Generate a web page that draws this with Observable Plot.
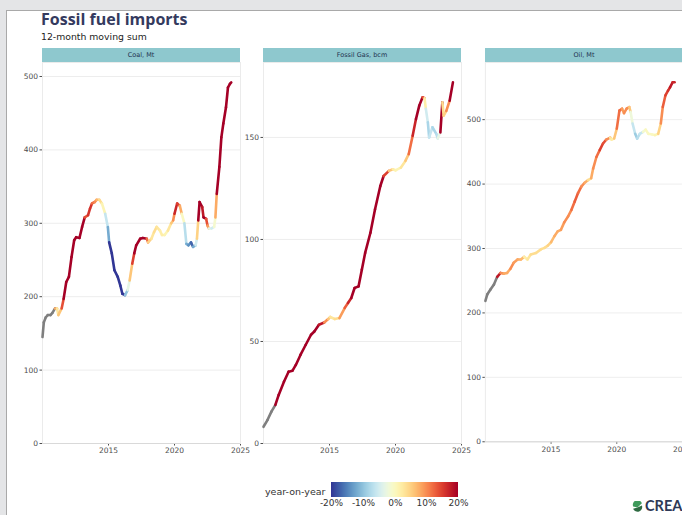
<!DOCTYPE html>
<html><head><meta charset="utf-8">
<script src="https://cdn.jsdelivr.net/npm/d3@7"></script>
<script src="https://cdn.jsdelivr.net/npm/@observablehq/plot@0.6"></script>
<style>
html,body{margin:0;padding:0;overflow:hidden;width:682px;height:515px;background:#e4e5e7;}
#card{position:absolute;left:6px;top:10px;width:900px;height:700px;background:#fff;border-top:1px solid #a9a9a9;border-left:1px solid #a9a9a9;}
.abs{position:absolute;white-space:nowrap;}
#title{left:41px;top:11px;font:bold 16px "Open Sans","DejaVu Sans",sans-serif;color:#343a5e;line-height:1;}
#subtitle{left:41px;top:32px;font:9.3px "DejaVu Sans",sans-serif;color:#222;line-height:1;}
.strip{position:absolute;height:14px;background:#8ec8ce;font:6.5px "DejaVu Sans",sans-serif;color:#1f3350;text-align:center;line-height:14px;}
.panel{position:absolute;top:62px;}
#yoylab{left:265px;top:487px;font:9.5px "DejaVu Sans",sans-serif;color:#333;line-height:1;}
#legend{position:absolute;left:317px;top:482px;}
#legend line{stroke:none;}
#logo{left:632px;top:499px;font:bold 14.5px Lato,"DejaVu Sans",sans-serif;color:#2e3956;line-height:1;display:flex;align-items:center;gap:2px;}
</style>
</head><body>
<div id="card"></div>
<div id="title" class="abs">Fossil fuel imports</div>
<div id="subtitle" class="abs">12-month moving sum</div>
<div id="root"></div>
<div id="yoylab" class="abs">year-on-year</div>
<div id="legend"></div>
<div id="logo" class="abs"><svg width="11" height="11" viewBox="0 0 10 10"><path d="M1 5 A4 4 0 0 1 9 2 L5 6 Z" fill="#3f9a5b"/><path d="M9 4 A4 4 0 0 1 1 7 L5 6 Z" fill="#2e6a42"/></svg><span>CREA</span></div>
<script>
// ---- data ----
const panelTitles = ["Coal, Mt", "Fossil Gas, bcm", "Oil, Mt"];
const xTicks = [2015, 2020, 2025];
const legendTicks = [-0.2, -0.1, 0, 0.1, 0.2];

const coalYears = [2010.0,2010.1,2010.25,2010.4,2010.6,2010.75,2010.95,2011.1,2011.2,2011.45,2011.6,2011.8,2012.0,2012.2,2012.4,2012.55,2012.8,2013.0,2013.2,2013.45,2013.6,2013.75,2013.95,2014.1,2014.3,2014.5,2014.75,2014.95,2015.05,2015.25,2015.45,2015.7,2015.9,2016.05,2016.25,2016.45,2016.6,2016.8,2016.95,2017.1,2017.4,2017.6,2017.9,2018.0,2018.25,2018.45,2018.65,2018.9,2019.05,2019.25,2019.5,2019.75,2019.9,2020.0,2020.2,2020.4,2020.55,2020.75,2020.9,2021.05,2021.25,2021.4,2021.6,2021.7,2021.8,2021.9,2022.1,2022.2,2022.4,2022.5,2022.6,2022.8,2023.0,2023.1,2023.2,2023.4,2023.55,2023.7,2023.9,2024.05,2024.2,2024.3];
const coalValues = [145,165,172,175,175,178,184,184,175,184,197,220,227,254,277,281,280,295,308,311,320,327,329,332,332,327,313,295,274,259,236,227,215,204,202,209,222,245,259,270,279,280,279,274,279,288,295,290,284,284,290,300,304,313,327,324,313,300,272,270,274,268,270,279,304,329,322,308,306,297,293,293,295,308,340,377,417,436,458,485,490,492];
const coalYoy = [null,null,null,null,null,null,null,0.08,0.03,0.06,0.14,0.22,0.25,0.3,0.35,0.3,0.22,0.22,0.2,0.14,0.16,0.16,0.12,0.1,0.07,0.04,0.01,-0.06,-0.12,-0.2,-0.25,-0.27,-0.3,-0.28,-0.2,-0.1,-0.03,0.06,0.15,0.25,0.3,0.22,0.2,0.12,0.05,0.03,0.04,0.03,0.02,0.02,0.01,0.03,0.06,0.1,0.17,0.15,0.08,0.0,-0.07,-0.12,-0.14,-0.17,-0.12,-0.05,0.05,0.2,0.22,0.18,0.2,0.14,0.09,-0.03,-0.05,-0.01,0.08,0.2,0.3,0.4,0.45,0.5,0.55,0.6];
const coalYTicks = [0,100,200,300,400,500];

const gasYears = [2010.0,2010.3,2010.6,2010.9,2011.15,2011.55,2011.9,2012.2,2012.45,2012.8,2013.2,2013.6,2013.85,2014.2,2014.6,2014.9,2015.05,2015.4,2015.75,2016.15,2016.4,2016.65,2016.9,2017.2,2017.45,2017.7,2018.1,2018.45,2018.85,2019.1,2019.5,2019.8,2020.0,2020.4,2020.75,2021.0,2021.3,2021.55,2021.8,2022.05,2022.2,2022.3,2022.45,2022.55,2022.8,2023.1,2023.2,2023.4,2023.55,2023.65,2023.85,2024.1,2024.35];
const gasValues = [8.2,11.5,15.6,18.9,23.8,30.3,35.2,35.7,38.5,43.4,48.4,53.3,54.9,58.2,59.3,61,62,61,61.5,66.4,68.9,71.3,76.2,77,85.2,93.4,103.3,114.8,126.2,131.1,133.6,134.4,133.9,135.2,138.5,141.8,150.8,159,165.6,169.7,169.2,164,157.4,150,155,151.6,149.5,152.5,167.2,160.7,163,168,177];
const gasYoy = [null,null,null,null,0.3,0.4,0.45,0.35,0.3,0.25,0.3,0.3,0.25,0.2,0.18,0.1,0.06,0.03,0.04,0.09,0.13,0.17,0.22,0.2,0.22,0.3,0.35,0.35,0.3,0.25,0.15,0.06,0.02,0.01,0.03,0.06,0.12,0.17,0.2,0.2,0.14,0.02,-0.05,-0.08,-0.06,-0.08,-0.07,-0.03,0.22,0.04,0.05,0.1,0.2];
const gasYTicks = [0,50,100,150];

const oilYears = [2010.0,2010.15,2010.4,2010.65,2010.9,2011.15,2011.4,2011.65,2011.9,2012.15,2012.45,2012.7,2012.95,2013.2,2013.45,2013.85,2014.25,2014.5,2014.75,2015.0,2015.25,2015.5,2015.75,2016.0,2016.3,2016.55,2016.8,2017.05,2017.3,2017.55,2017.8,2018.05,2018.2,2018.45,2018.7,2018.95,2019.2,2019.5,2019.6,2019.8,2020.0,2020.2,2020.4,2020.55,2020.75,2020.95,2021.05,2021.2,2021.4,2021.55,2021.75,2022.0,2022.2,2022.4,2022.7,2022.9,2023.15,2023.35,2023.5,2023.7,2023.9,2024.05,2024.25,2024.4];
const oilValues = [218.6,229,236.6,244,256,262,261,262,268.5,277.8,283,283,287,283,290.6,293,299,301,304.5,309.7,319,326.6,329,340.5,350,360,373,386,396,402,406,409,424,442,452.7,463,469,472,469,470.7,486,514,517,510,517,519.6,512,494,478,470.7,478,481,484.6,478,477,476,478,494,519.6,537.5,545,550,558,558];
const oilYoy = [null,null,null,null,null,0.18,0.1,0.08,0.08,0.1,0.09,0.08,0.07,0.02,0.03,0.04,0.04,0.04,0.04,0.05,0.07,0.08,0.08,0.09,0.1,0.1,0.12,0.13,0.12,0.1,0.08,0.04,0.08,0.1,0.12,0.15,0.14,0.1,0.03,0.02,0.06,0.12,0.12,0.09,0.1,0.1,0.06,-0.02,-0.06,-0.09,-0.07,-0.06,-0.01,0.0,0.0,0.0,0.01,0.05,0.1,0.13,0.15,0.16,0.18,0.17];
const oilYTicks = [0,100,200,300,400,500];

// ---- chart ----
const colorOpts = {type: "linear", domain: [-0.2, 0.2], scheme: "rdylbu", reverse: true, clamp: true};
const panelLefts = [18, 239, 461];
const plotLeft = 24, plotW = 198;

function panel(years, values, yoy, yTicks) {
  const pts = years.map((x, i) => ({x, v: values[i], c: yoy[i]}));
  const segs = d3.pairs(pts).map(([a, b]) => ({x1: a.x, y1: a.v, x2: b.x, y2: b.v, c: b.c}));
  return Plot.plot({
    width: plotLeft + plotW, height: 399,
    marginLeft: plotLeft, marginRight: 0, marginTop: 0, marginBottom: 18,
    style: {fontFamily: "DejaVu Sans", fontSize: "7.5px", color: "#4d4d4d", background: "transparent", overflow: "visible"},
    x: {domain: [2010, 2025], ticks: xTicks, tickFormat: d => String(d), label: null, tickSize: 2.5, tickPadding: 2},
    y: {domain: [0, d3.max(values) * 1.055], ticks: yTicks, label: null, tickSize: 2.5, tickPadding: 2, grid: true},
    color: colorOpts,
    marks: [
      Plot.frame({stroke: "#ebebeb"}),
      Plot.ruleY([0], {stroke: "#d9d9d9"}),
      Plot.link(segs.filter(d => d.c == null), {x1: "x1", y1: "y1", x2: "x2", y2: "y2", stroke: "#7f7f7f", strokeWidth: 2.6, strokeLinecap: "round"}),
      Plot.link(segs.filter(d => d.c != null), {x1: "x1", y1: "y1", x2: "x2", y2: "y2", stroke: "c", strokeWidth: 2.6, strokeLinecap: "round"})
    ]
  });
}

const root = document.getElementById("root");
const series = [[coalYears, coalValues, coalYoy, coalYTicks], [gasYears, gasValues, gasYoy, gasYTicks], [oilYears, oilValues, oilYoy, oilYTicks]];
series.forEach((s, i) => {
  const strip = document.createElement("div");
  strip.className = "strip";
  strip.style.left = (panelLefts[i] + plotLeft) + "px";
  strip.style.top = "48px";
  strip.style.width = plotW + "px";
  strip.textContent = panelTitles[i];
  root.appendChild(strip);
  const wrap = document.createElement("div");
  wrap.className = "panel";
  wrap.style.left = panelLefts[i] + "px";
  wrap.appendChild(panel(...s));
  root.appendChild(wrap);
});

document.getElementById("legend").appendChild(Plot.legend({
  color: colorOpts,
  label: null,
  width: 155, height: 29, marginLeft: 14, marginRight: 14, marginTop: 0, marginBottom: 14,
  ticks: legendTicks, tickSize: 0,
  tickFormat: d => Math.round(d * 100) + "%",
  style: {fontFamily: "DejaVu Sans", fontSize: "9px", color: "#333", background: "transparent"}
}));
</script>
</body></html>
